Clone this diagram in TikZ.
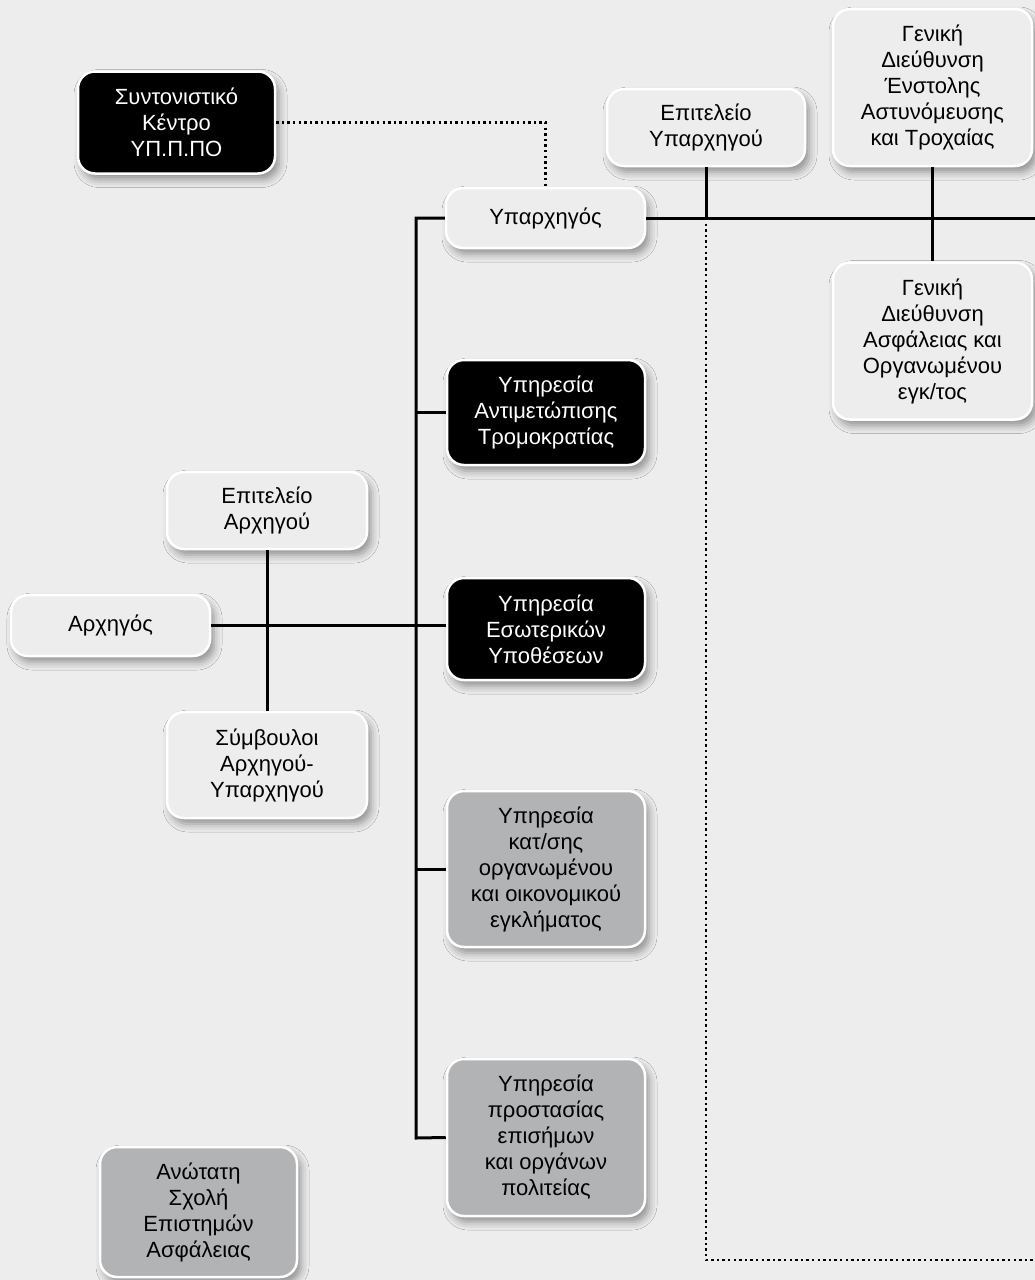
\documentclass[tikz,border=0pt]{standalone}
\usepackage{fontspec}
\setmainfont{Liberation Sans}
\usetikzlibrary{shadows.blur}
\definecolor{bgcol}{HTML}{ECEDEC}
\definecolor{lightbox}{HTML}{ECEDEC}
\definecolor{greybox}{HTML}{B2B3B4}
\tikzset{
  unit/.style={draw=white, line width=2.5pt, rounded corners=17pt, align=center,
    inner sep=2pt, font=\fontsize{22}{26}\selectfont,
    blur shadow={shadow xshift=4pt, shadow yshift=-6pt, shadow blur radius=8pt, shadow opacity=40}},
  lightunit/.style={unit, fill=lightbox, text=black},
  darkunit/.style={unit, fill=black, text=white},
  greyunit/.style={unit, fill=greybox, text=black},
  link/.style={line width=3pt, black},
  dotlink/.style={line width=2.6pt, black, dash pattern=on 2.4pt off 3.2pt},
}
\begin{document}
\begin{tikzpicture}[x=1pt, y=-1pt]
\fill[bgcol] (0,0) rectangle (1035,1280);
\useasboundingbox (0,0) rectangle (1035,1280);

% fixed points of the connector network
\coordinate (bustop) at (416,218);
\coordinate (busbot) at (416,1138);
\coordinate (rightend) at (1035,218);
\coordinate (dotcorner) at (706,1260);
\coordinate (dotend) at (1035,1260);

% boxes
\node[darkunit, minimum width=197pt, minimum height=102pt] (sck) at (176.5,122.5)
  {Συντονιστικό\\Κέντρο\\ΥΠ.Π.ΠΟ};
\node[lightunit, minimum width=199pt, minimum height=60pt] (yparx) at (545.5,218) {Υπαρχηγός};
\node[lightunit, minimum width=198pt, minimum height=77pt] (epyp) at (706,127.5)
  {Επιτελείο\\Υπαρχηγού};
\node[lightunit, minimum width=199pt, minimum height=157pt] (gdea) at (932.5,87.5)
  {Γενική\\Διεύθυνση\\Ένστολης\\Αστυνόμευσης\\και Τροχαίας};
\node[lightunit, minimum width=199pt, minimum height=157pt] (gdao) at (932.5,341)
  {Γενική\\Διεύθυνση\\Ασφάλειας και\\Οργανωμένου\\εγκ/τος};
\node[darkunit, minimum width=198pt, minimum height=105pt] (yat) at (546,412.5)
  {Υπηρεσία\\Αντιμετώπισης\\Τρομοκρατίας};
\node[darkunit, minimum width=198pt, minimum height=102pt] (yey) at (546,629)
  {Υπηρεσία\\Εσωτερικών\\Υποθέσεων};
\node[greyunit, minimum width=198pt, minimum height=156pt] (ykat) at (546,869)
  {Υπηρεσία\\κατ/σης\\οργανωμένου\\και οικονομικού\\εγκλήματος};
\node[greyunit, minimum width=198pt, minimum height=157pt] (ypro) at (546,1137.5)
  {Υπηρεσία\\προστασίας\\επισήμων\\και οργάνων\\πολιτείας};
\node[lightunit, minimum width=200pt, minimum height=77pt] (eparx) at (267,510.5)
  {Επιτελείο\\Αρχηγού};
\node[lightunit, minimum width=199pt, minimum height=61pt] (arx) at (110.5,625.5) {Αρχηγός};
\node[lightunit, minimum width=200pt, minimum height=106pt] (symb) at (267,765)
  {Σύμβουλοι\\Αρχηγού-\\Υπαρχηγού};
\node[greyunit, minimum width=197pt, minimum height=130pt] (asea) at (198.5,1212)
  {Ανώτατη\\Σχολή\\Επιστημών\\Ασφάλειας};

% connector lines, ending at the box borders
\draw[dotlink] (sck.east) -| (yparx.north);
\draw[link] (yparx.west) -- (bustop) -- (busbot) -- (ypro.west);
\draw[link] (yat.west) -- (yat.west -| bustop);
\draw[link] (ykat.west) -- (ykat.west -| bustop);
\draw[link] (arx.east) -- (arx.east -| yey.west);
\draw[link] (eparx.south) -- (symb.north);
\draw[link] (yparx.east) -- (rightend);
\draw[link] (epyp.south) -- (epyp.south |- rightend);
\draw[link] (gdea.south) -- (gdao.north);
\draw[dotlink] (epyp.south |- rightend) -- (dotcorner) -- (dotend);
\end{tikzpicture}
\end{document}
